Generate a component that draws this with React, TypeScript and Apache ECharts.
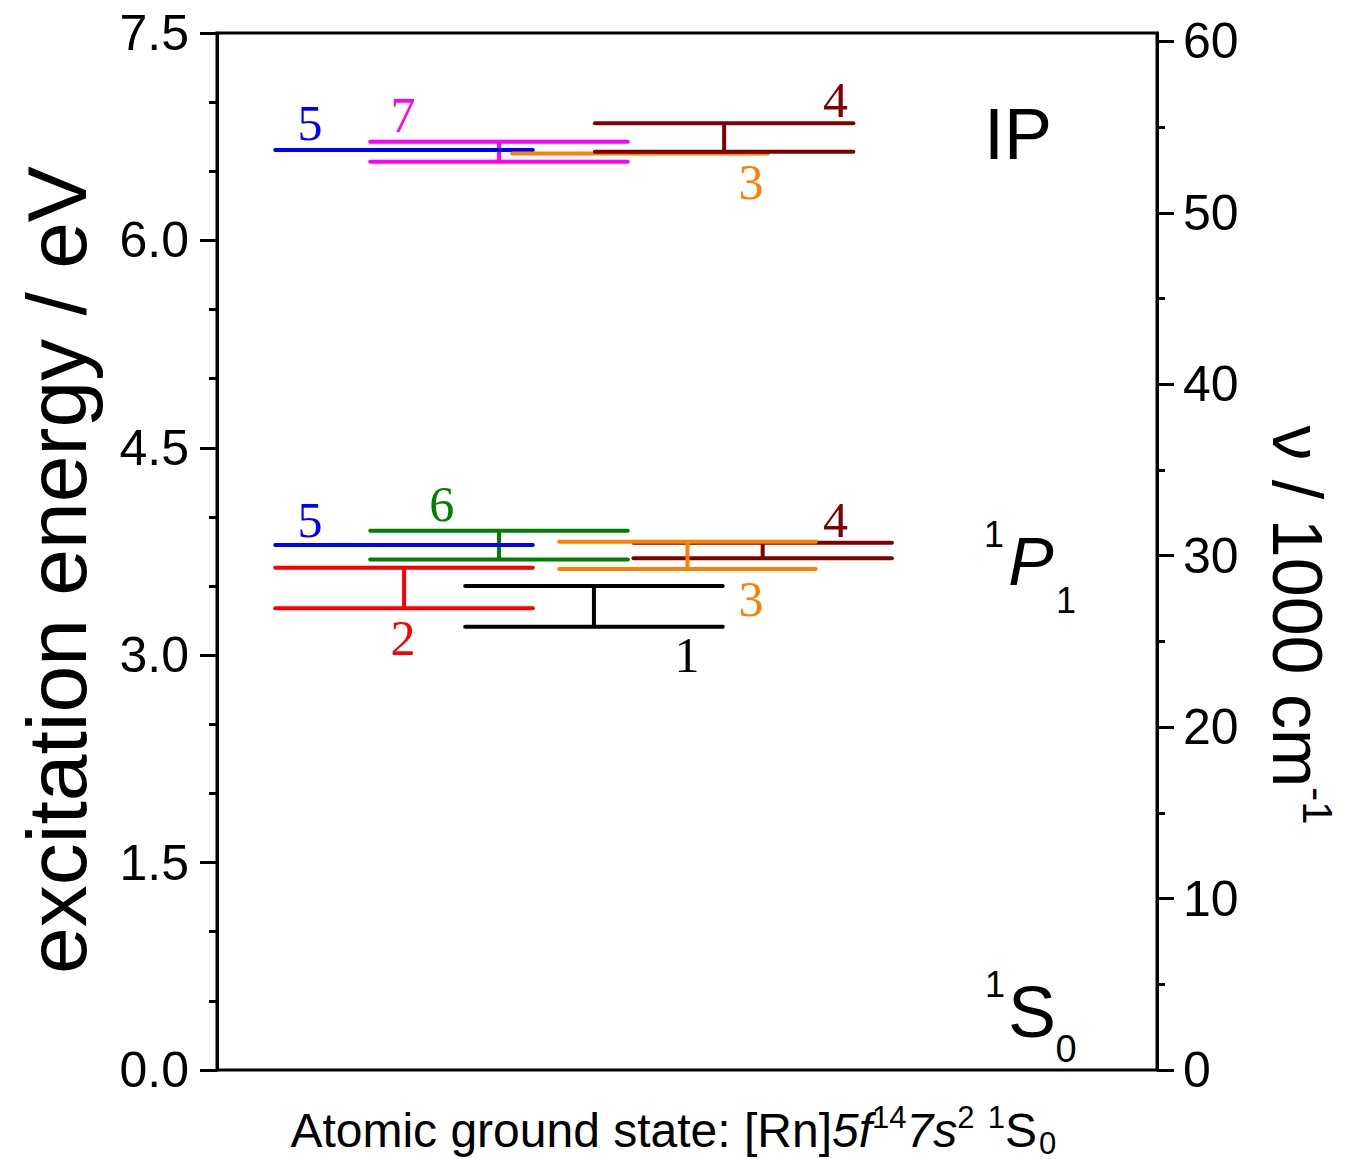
import React, { useEffect, useRef } from "react";
import * as echarts from "echarts";

// ---- data ----
const EV_TO_KCM = 8.065544; // 1 eV in 1000 cm^-1
const leftTicks = [0, 1.5, 3.0, 4.5, 6.0, 7.5];
const rightMajorTicks = [0, 10, 20, 30, 40, 50, 60];
const rightMinorTicks = [5, 15, 25, 35, 45, 55];

// level bars (drawing order)
const levelState = ["IP", "IP", "IP", "IP", "1P1", "1P1", "1P1", "1P1", "1P1", "1P1"];
const levelMethod = [7, 5, 3, 4, 6, 5, 2, 1, 4, 3];
const levelLow = [6.569, 6.654, 6.628, 6.641, 3.693, 3.797, 3.339, 3.206, 3.701, 3.623];
const levelHigh = [6.714, 6.654, 6.628, 6.847, 3.9, 3.797, 3.633, 3.5, 3.814, 3.821];
const levelXStart = [16.3, 6.2, 31.4, 40.2, 16.3, 6.2, 6.2, 26.4, 44.3, 36.4];
const levelXEnd = [43.7, 33.6, 58.6, 67.7, 43.7, 33.6, 33.6, 53.8, 71.8, 63.7];

// method number labels
const labelMethod = [5, 7, 4, 3, 5, 6, 2, 1, 3, 4];
const labelX = [9.9, 19.8, 65.8, 56.8, 9.9, 23.9, 19.8, 50.0, 56.8, 65.8];
const labelY = [6.851, 6.91, 7.015, 6.422, 3.981, 4.097, 3.128, 2.998, 3.403, 3.978];

const methodColors: Record<number, string> = {
  1: "#000000",
  2: "#FF0000",
  3: "#FF8000",
  4: "#800000",
  5: "#0000FF",
  6: "#008000",
  7: "#FF00FF",
};

const SANS = '"Liberation Sans", Arial, sans-serif';
const SERIF = '"Liberation Serif", "Times New Roman", serif';

export default function App() {
  const ref = useRef<HTMLDivElement>(null);
  useEffect(() => {
    if (!ref.current) return;
    const chart = echarts.init(ref.current, undefined, { renderer: "svg" });
    const rightMax = 7.5 * EV_TO_KCM;

    const levelData = levelLow.map((lo, i) => [
      levelXStart[i],
      levelXEnd[i],
      lo,
      levelHigh[i],
      levelMethod[i],
    ]);
    const labelData = labelX.map((x, i) => [x, labelY[i], labelMethod[i]]);

    const center = { align: "center", verticalAlign: "middle", textAlign: "center", textVerticalAlign: "middle" };
    const LW = 4;

    const option: any = {
      animation: false,
      backgroundColor: "#ffffff",
      grid: {
        left: 217,
        right: 188,
        top: 33,
        bottom: 89,
        show: true,
        borderColor: "#000",
        borderWidth: 3,
        backgroundColor: "transparent",
      },
      xAxis: { type: "value", min: 0, max: 100, show: false },
      yAxis: [
        {
          type: "value",
          position: "left",
          min: 0,
          max: 7.5,
          interval: 1.5,
          axisLine: { show: true, lineStyle: { color: "#000", width: 3 } },
          axisTick: { show: true, inside: false, length: 17, lineStyle: { color: "#000", width: 3 } },
          minorTick: { show: true, splitNumber: 3, length: 8, lineStyle: { color: "#000", width: 3 } },
          splitLine: { show: false },
          minorSplitLine: { show: false },
          axisLabel: {
            color: "#000",
            fontSize: 50,
            fontFamily: SANS,
            margin: 28,
            formatter: (v: number) => (leftTicks.some((t) => Math.abs(t - v) < 1e-6) ? v.toFixed(1) : ""),
          },
        },
        {
          type: "value",
          position: "right",
          min: 0,
          max: rightMax,
          axisLine: { show: true, lineStyle: { color: "#000", width: 3 } },
          axisTick: {
            show: true,
            inside: false,
            length: 17,
            customValues: rightMajorTicks,
            lineStyle: { color: "#000", width: 3 },
          },
          splitLine: { show: false },
          axisLabel: {
            color: "#000",
            fontSize: 50,
            fontFamily: SANS,
            margin: 26,
            customValues: rightMajorTicks,
            formatter: (v: number) => String(Math.round(v)),
          },
        },
        {
          type: "value",
          position: "right",
          min: 0,
          max: rightMax,
          axisLine: { show: false },
          axisTick: {
            show: true,
            inside: false,
            length: 8,
            customValues: rightMinorTicks,
            lineStyle: { color: "#000", width: 3 },
          },
          splitLine: { show: false },
          axisLabel: { show: false, customValues: rightMinorTicks },
        },
      ],
      series: [
        {
          type: "custom",
          name: "levels",
          xAxisIndex: 0,
          yAxisIndex: 0,
          data: levelData,
          encode: { x: [0, 1], y: [2, 3] },
          renderItem: (params: any, api: any) => {
            const xs = api.value(0);
            const xe = api.value(1);
            const lo = api.value(2);
            const hi = api.value(3);
            const color = methodColors[api.value(4)];
            const style = { stroke: color, lineWidth: LW, lineCap: "round", fill: null };
            const a = api.coord([xs, lo]);
            const b = api.coord([xe, lo]);
            const children: any[] = [
              { type: "line", shape: { x1: a[0], y1: a[1], x2: b[0], y2: b[1] }, style },
            ];
            if (Math.abs(hi - lo) > 1e-9) {
              const c = api.coord([xs, hi]);
              const d = api.coord([xe, hi]);
              const m1 = api.coord([(xs + xe) / 2, lo]);
              const m2 = api.coord([(xs + xe) / 2, hi]);
              children.push({ type: "line", shape: { x1: c[0], y1: c[1], x2: d[0], y2: d[1] }, style });
              children.push({
                type: "line",
                shape: { x1: m1[0], y1: m1[1], x2: m2[0], y2: m2[1] },
                style: { stroke: color, lineWidth: LW, fill: null },
              });
            }
            return { type: "group", children };
          },
        },
        {
          type: "custom",
          name: "labels",
          xAxisIndex: 0,
          yAxisIndex: 0,
          data: labelData,
          encode: { x: 0, y: 1 },
          renderItem: (params: any, api: any) => {
            const p = api.coord([api.value(0), api.value(1)]);
            const m = api.value(2);
            return {
              type: "text",
              x: p[0],
              y: p[1],
              style: {
                text: String(m),
                fill: methodColors[m],
                fontSize: 50,
                fontFamily: SERIF,
                ...center,
              },
            };
          },
        },
      ],
      graphic: [
        {
          type: "text",
          x: 57,
          y: 570,
          rotation: Math.PI / 2,
          style: {
            text: "excitation energy / eV",
            fill: "#000",
            fontSize: 84,
            fontFamily: SANS,
            ...center,
          },
        },
        {
          type: "text",
          x: 1300,
          y: 625,
          rotation: -Math.PI / 2,
          style: {
            text: "{n|ν / 1000 cm}{s|-1}",
            fill: "#000",
            fontFamily: SANS,
            ...center,
            rich: {
              n: { fontSize: 70, fontFamily: SANS, lineHeight: 76, verticalAlign: "bottom", fill: "#000" },
              s: { fontSize: 42, fontFamily: SANS, lineHeight: 44, verticalAlign: "top", fill: "#000" },
            },
          },
        },
        {
          type: "text",
          x: 1018,
          y: 134,
          style: { text: "IP", fill: "#000", fontSize: 72, fontFamily: SANS, ...center },
        },
        {
          type: "text",
          x: 994,
          y: 534,
          style: { text: "1", fill: "#000", fontSize: 36, fontFamily: SANS, ...center },
        },
        {
          type: "text",
          x: 1031,
          y: 561,
          style: { text: "P", fill: "#000", fontSize: 68, fontStyle: "italic", fontFamily: SANS, ...center },
        },
        {
          type: "text",
          x: 1066,
          y: 600,
          style: { text: "1", fill: "#000", fontSize: 36, fontFamily: SANS, ...center },
        },
        {
          type: "text",
          x: 995,
          y: 984,
          style: { text: "1", fill: "#000", fontSize: 36, fontFamily: SANS, ...center },
        },
        {
          type: "text",
          x: 1032,
          y: 1012,
          style: { text: "S", fill: "#000", fontSize: 72, fontFamily: SANS, ...center },
        },
        {
          type: "text",
          x: 1066,
          y: 1049,
          style: { text: "0", fill: "#000", fontSize: 38, fontFamily: SANS, ...center },
        },
        {
          type: "text",
          x: 1037,
          y: 1130,
          style: {
            text: "{n|Atomic ground state: [Rn]}{i|5f}{sup|14}{i|7s}{sup|2}{n| }{sup|1}{n|S}",
            fill: "#000",
            fontFamily: SANS,
            align: "right",
            verticalAlign: "middle",
            textAlign: "right",
            textVerticalAlign: "middle",
            rich: {
              n: { fontSize: 48, fontFamily: SANS, lineHeight: 56, verticalAlign: "middle", fill: "#000" },
              i: { fontSize: 48, fontFamily: SANS, fontStyle: "italic", lineHeight: 56, verticalAlign: "middle", fill: "#000" },
              sup: { fontSize: 31, fontFamily: SANS, lineHeight: 36, verticalAlign: "top", fill: "#000" },
            },
          },
        },
        {
          type: "text",
          x: 1039,
          y: 1143,
          style: {
            text: "0",
            fill: "#000",
            fontSize: 31,
            fontFamily: SANS,
            align: "left",
            verticalAlign: "middle",
            textAlign: "left",
            textVerticalAlign: "middle",
          },
        },
      ],
    };
    chart.setOption(option);
    return () => chart.dispose();
  }, []);
  return (
    <div
      ref={ref}
      style={{ position: "absolute", left: 0, top: 0, width: 1345, height: 1159 }}
    />
  );
}
